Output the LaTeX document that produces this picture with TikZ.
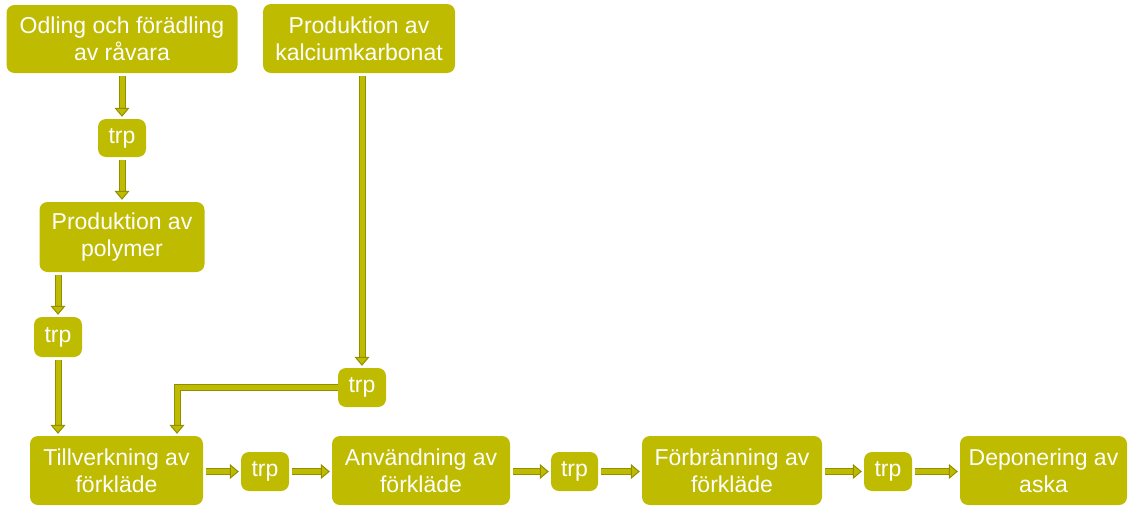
\documentclass[tikz,border=0pt]{standalone}
\usepackage{fontspec}
\setmainfont{Liberation Sans}
\usetikzlibrary{arrows.meta}
\definecolor{olv}{RGB}{190,187,0}
\definecolor{olvd}{RGB}{145,143,0}
\newcommand{\boxfont}{\fontsize{23}{27}\selectfont}
\tikzset{
  box/.style={fill=olv, rounded corners=8, text=white, align=center, font=\boxfont, inner sep=0pt},
  flow/.style={draw=olvd, line width=1, double=olv, double distance=5,
    -{Triangle[width=15,length=9,fill=olv]}, shorten <=3, shorten >=2}
}
\begin{document}
\begin{tikzpicture}[x=1pt,y=-1pt]
\useasboundingbox (0,0) rectangle (1130,506);
\node[box, minimum width=231, minimum height=68] (odl) at (122,39) {Odling och förädling\\av råvara};
\node[box, minimum width=48, minimum height=38] (t1) at (122,138) {trp};
\node[box, minimum width=165, minimum height=70] (pol) at (122,237) {Produktion av\\polymer};
\node[box, minimum width=48, minimum height=40] (t2) at (58,337) {trp};
\node[box, minimum width=192, minimum height=69] (kal) at (359,38.5) {Produktion av\\kalciumkarbonat};
\node[box, minimum width=48, minimum height=39] (t3) at (362,387.5) {trp};
\node[box, minimum width=173, minimum height=69] (til) at (116.5,470.5) {Tillverkning av\\förkläde};
\node[box, minimum width=48, minimum height=39] (t4) at (265,471.5) {trp};
\node[box, minimum width=178, minimum height=69] (anv) at (421,470.5) {Användning av\\förkläde};
\node[box, minimum width=47, minimum height=39] (t5) at (574.5,471.5) {trp};
\node[box, minimum width=180, minimum height=69] (frb) at (732,470.5) {Förbränning av\\förkläde};
\node[box, minimum width=48, minimum height=39] (t6) at (888,471.5) {trp};
\node[box, minimum width=167, minimum height=69] (dep) at (1043.5,470.5) {Deponering av\\aska};

\draw[flow] (odl.south -| t1.north) -- (t1.north);
\draw[flow] (t1.south) -- (t1.south |- pol.north);
\draw[flow] (pol.south -| t2.north) -- (t2.north);
\draw[flow] (t2.south) -- (t2.south |- til.north);
\draw[flow] (kal.south -| t3.north) -- (t3.north);
\draw[flow, shorten <=0] (t3.west) -| ([xshift=60.5]til.north);
\draw[flow] (til.east |- t4.west) -- (t4.west);
\draw[flow] (t4.east) -- (t4.east -| anv.west);
\draw[flow] (anv.east |- t5.west) -- (t5.west);
\draw[flow] (t5.east) -- (t5.east -| frb.west);
\draw[flow] (frb.east |- t6.west) -- (t6.west);
\draw[flow] (t6.east) -- (t6.east -| dep.west);
\end{tikzpicture}
\end{document}
